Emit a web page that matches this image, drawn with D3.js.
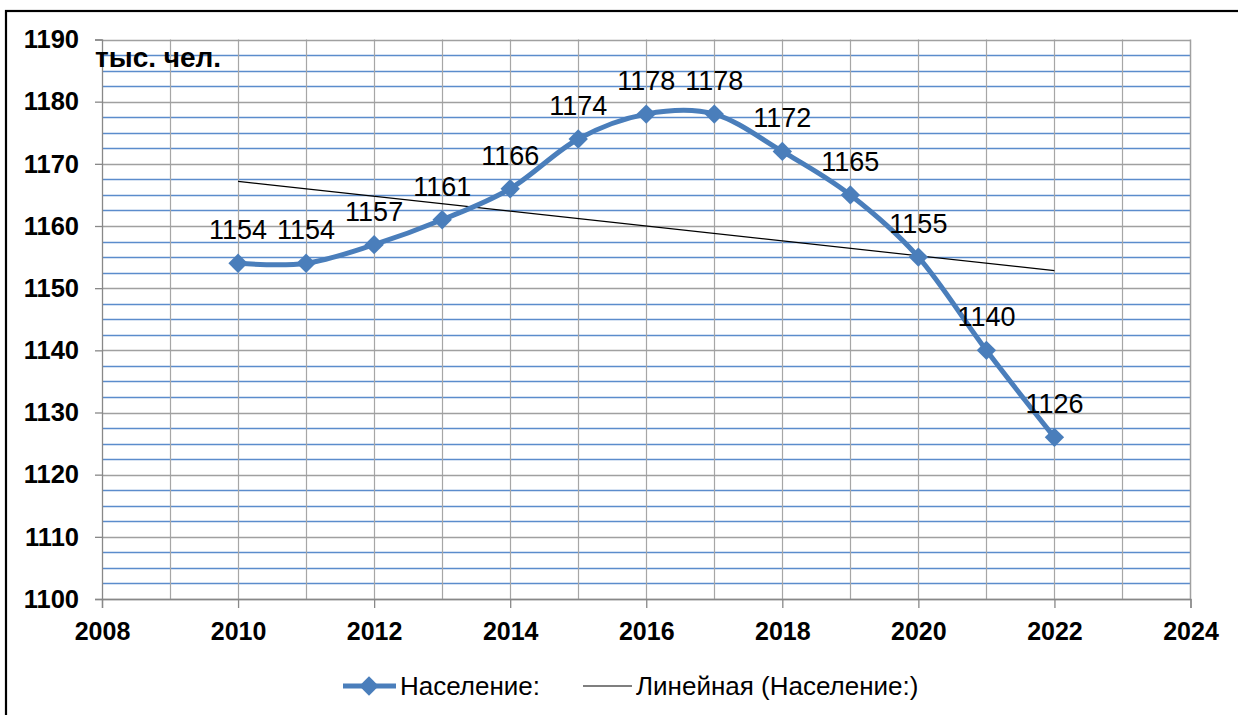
<!DOCTYPE html>
<html><head><meta charset="utf-8">
<script src="https://cdn.jsdelivr.net/npm/d3@7"></script>
<style>html,body{margin:0;padding:0;background:#fff;overflow:hidden}svg{display:block}text{font-family:Arial,"Liberation Sans",sans-serif}</style>
</head><body><svg id="c" width="1238" height="715"></svg>
<script>
const years = [2010,2011,2012,2013,2014,2015,2016,2017,2018,2019,2020,2021,2022];
const population = [1154,1154,1157,1161,1166,1174,1178,1178,1172,1165,1155,1140,1126];
const yTicks = [1100,1110,1120,1130,1140,1150,1160,1170,1180,1190];
const xTicks = [2008,2010,2012,2014,2016,2018,2020,2022,2024];
const unitLabel = "тыс. чел.";
const seriesName = "Население:";
const trendName = "Линейная (Население:)";

const svg = d3.select("#c");
const L = 102, R = 1190.5, T = 39.5, B = 599;
const x = d3.scaleLinear().domain([2008,2024]).range([L,R]);
const y = d3.scaleLinear().domain([1100,1190]).range([B,T]);
const blue = "#4a7ebb";

// outer border
svg.append("rect").attr("x",6).attr("y",11).attr("width",1300).attr("height",800)
  .attr("fill","#fff").attr("stroke","#000").attr("stroke-width",2.2);

// minor horizontal grid (blue)
const minor = d3.range(1100,1190.01,2.5).filter(v => v % 10 !== 0);
svg.append("g").selectAll("line").data(minor).join("line")
  .attr("x1",L).attr("x2",R).attr("y1",d=>Math.round(y(d))+0.5).attr("y2",d=>Math.round(y(d))+0.5)
  .attr("stroke","#5b8ccc").attr("stroke-width",1.3);
// vertical grid every year
svg.append("g").selectAll("line").data(d3.range(2009,2024)).join("line")
  .attr("y1",T).attr("y2",B).attr("x1",d=>Math.round(x(d))+0.5).attr("x2",d=>Math.round(x(d))+0.5)
  .attr("stroke","#a6a6a6").attr("stroke-width",1.2);
// major horizontal grid
svg.append("g").selectAll("line").data(yTicks).join("line")
  .attr("x1",L).attr("x2",R).attr("y1",d=>Math.round(y(d))+0.5).attr("y2",d=>Math.round(y(d))+0.5)
  .attr("stroke","#a0a0a0").attr("stroke-width",1.3);
// plot right border
svg.append("line").attr("x1",R).attr("x2",R).attr("y1",T).attr("y2",B).attr("stroke","#a0a0a0").attr("stroke-width",1.5);

// axes
const yAxis = d3.axisLeft(y).tickValues(yTicks).tickSize(7).tickPadding(16).tickFormat(d3.format("d"));
const gy = svg.append("g").attr("transform",`translate(${L},0)`).call(yAxis);
gy.select(".domain").attr("stroke","#888").attr("stroke-width",1.3);
gy.selectAll(".tick line").attr("stroke","#888").attr("stroke-width",1.3);
gy.selectAll("text").attr("font-size",25.5).attr("font-weight","bold").attr("fill","#000")
  .attr("font-family","Arial, 'Liberation Sans', sans-serif");

const xAxis = d3.axisBottom(x).tickValues(xTicks).tickSize(9).tickPadding(14).tickFormat(d3.format("d"));
const gx = svg.append("g").attr("transform",`translate(0,${B})`).call(xAxis);
gx.select(".domain").attr("stroke","#888").attr("stroke-width",1.3);
gx.selectAll(".tick line").attr("stroke","#888").attr("stroke-width",1.3);
gx.selectAll("text").attr("font-size",25).attr("font-weight","bold").attr("fill","#000")
  .attr("font-family","Arial, 'Liberation Sans', sans-serif");

// unit label
svg.append("text").attr("x",95).attr("y",67).attr("font-size",28).attr("font-weight","bold").text(unitLabel);

// trend line (least squares)
const mx = d3.mean(years), my = d3.mean(population);
const slope = d3.sum(years,(v,i)=>(v-mx)*(population[i]-my)) / d3.sum(years,v=>(v-mx)*(v-mx));
const trend = v => my + slope*(v-mx);
const x0 = years[0], x1 = years[years.length-1];
svg.append("line").attr("x1",x(x0)).attr("y1",y(trend(x0))).attr("x2",x(x1)).attr("y2",y(trend(x1)))
  .attr("stroke","#000").attr("stroke-width",1.2);

// series
const pts = years.map((v,i)=>[v,population[i]]);
const line = d3.line().x(d=>x(d[0])).y(d=>y(d[1])).curve(d3.curveCardinal.tension(0));
svg.append("path").datum(pts).attr("d",line).attr("fill","none").attr("stroke",blue).attr("stroke-width",5);
const diamond = d3.symbol().type(d3.symbolDiamond2).size(240);
svg.append("g").selectAll("path").data(pts).join("path")
  .attr("transform",d=>`translate(${x(d[0])},${y(d[1])})`).attr("d",diamond).attr("fill",blue);

// data labels
svg.append("g").selectAll("text").data(pts).join("text")
  .attr("x",d=>x(d[0])).attr("y",d=>y(d[1])-24).attr("text-anchor","middle")
  .attr("font-size",27).attr("fill","#000").text(d=>d[1]);

// legend
const ly = 686;
svg.append("line").attr("x1",343).attr("x2",396).attr("y1",ly).attr("y2",ly).attr("stroke",blue).attr("stroke-width",5);
svg.append("path").attr("transform",`translate(369,${ly})`).attr("d",diamond).attr("fill",blue);
svg.append("text").attr("x",400).attr("y",ly+9).attr("font-size",26).text(seriesName);
svg.append("line").attr("x1",583).attr("x2",632).attr("y1",ly).attr("y2",ly).attr("stroke","#000").attr("stroke-width",1.2);
svg.append("text").attr("x",636).attr("y",ly+9).attr("font-size",26).text(trendName);
</script></body></html>
